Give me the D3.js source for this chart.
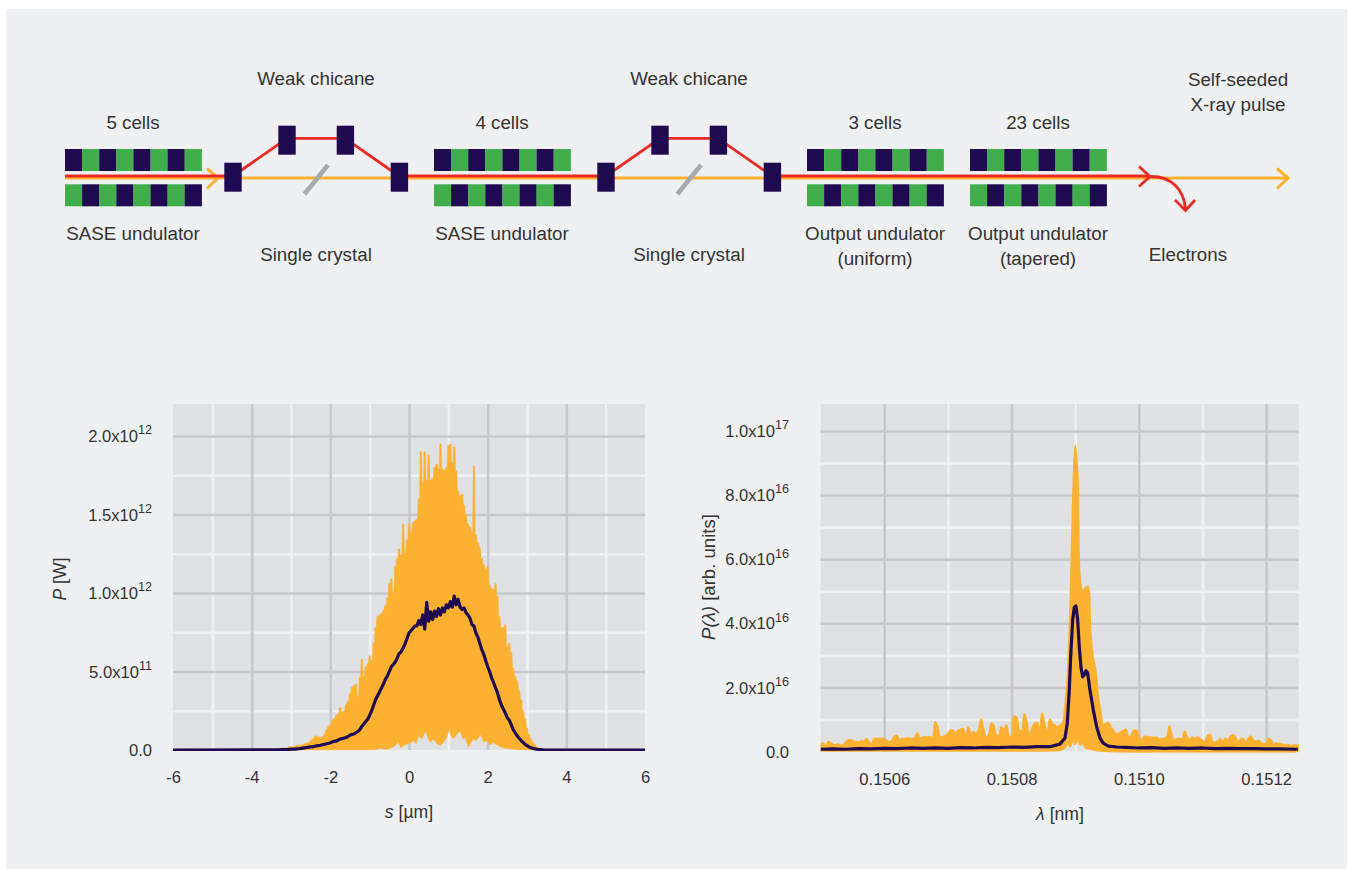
<!DOCTYPE html>
<html>
<head>
<meta charset="utf-8">
<script src="https://cdn.jsdelivr.net/npm/d3@7"></script>
<style>
  html, body { margin: 0; background: #fff; }
  svg { display: block; }
  text { font-family: "Liberation Sans", Arial, sans-serif; fill: #333; }
</style>
</head>
<body>
<svg id="fig" width="1349" height="870"></svg>
<script>
// ---- power profile, s in um, P in units of 1e12 W, sampled every 0.05 um from -3.3
const sStart = -3.3, sStep = 0.05;
const powerMax = [.01,.01,.012,.012,.015,.02,.02,.02,.022,.03,.03,.03,.035,.04,.045,.05,.06,.07,.085,.09,
  .085,.08,.085,.10,.13,.15,.16,.19,.20,.22,.23,.27,.24,.25,.29,.31,.36,.40,.41,.42,
  .34,.46,.58,.47,.53,.55,.60,.57,.68,.78,.85,.86,.87,.89,.92,.97,1.06,1.09,1.00,1.17,
  1.22,1.28,1.24,1.44,1.26,1.34,1.44,1.38,1.45,1.46,1.47,1.60,1.90,1.70,1.90,1.72,1.88,1.72,1.73,1.80,
  1.82,1.79,1.95,1.79,1.78,1.80,1.94,1.95,1.83,1.93,1.78,1.65,1.62,1.63,1.56,1.50,1.44,1.42,1.39,1.81,
  1.37,1.32,1.29,1.22,1.18,1.15,1.17,1.05,1.03,1.02,1.06,.98,.85,.78,.78,.80,.66,.68,.62,.52,
  .47,.44,.38,.32,.25,.20,.14,.10,.07,.05,.035,.02,.015,.01,.005,.002];
const powerMean = [.001,.002,.002,.003,.003,.004,.005,.005,.006,.007,.008,.010,.012,.014,.016,.018,.020,.020,.024,.026,
  .028,.030,.034,.036,.040,.042,.046,.052,.056,.056,.064,.070,.072,.076,.080,.086,.094,.100,.102,.110,
  .118,.130,.150,.166,.182,.196,.220,.250,.285,.320,.345,.370,.395,.420,.450,.470,.500,.530,.545,.560,
  .585,.615,.625,.650,.675,.710,.745,.760,.775,.790,.790,.825,.800,.860,.770,.940,.820,.880,.830,.885,
  .850,.900,.860,.905,.880,.925,.905,.945,.910,.980,.925,.960,.910,.895,.905,.875,.860,.840,.800,.790,
  .745,.720,.680,.640,.610,.570,.530,.500,.460,.430,.395,.365,.320,.285,.260,.235,.205,.190,.160,.130,
  .110,.090,.075,.060,.048,.036,.028,.020,.014,.010,.007,.005,.003,.002,.001,0];
// lower edge of the shot-to-shot band
const powerMinS = [-3.3,-.9,-.73,-.56,-.39,-.27,-.21,-.1,0,.11,.18,.24,.33,.41,.48,.54,.62,.71,.8,.88,.96,1.02,1.07,1.13,1.22,1.3,1.37,1.43,1.51,1.58,1.64,1.72,1.81,1.9,1.98,2.06,2.14,2.31,2.48,2.82,3.6];
const powerMinV = [0,.002,.01,.005,.02,.05,.015,.035,.04,.06,.04,.09,.07,.12,.08,.05,.07,.04,.03,.05,.08,.13,.09,.07,.10,.12,.07,.08,.02,.05,.07,.06,.10,.05,.06,.03,.05,.02,.01,.002,0];
const sTicks = [-6,-4,-2,0,2,4,6];
const sMinor = [-5,-3,-1,1,3,5];
const powerTicks = [0,.5,1,1.5,2];
const powerMinorTicks = [.25,.75,1.25,1.75];
const powerLabels = [['0.0',''],['5.0x10','11'],['1.0x10','12'],['1.5x10','12'],['2.0x10','12']];

// ---- spectrum, lambda in nm, P in units of 1e16, sampled every 4e-6 nm from 0.1505
const lamStart = 0.1505, lamStep = 0.000004;
const specMax = [.24,.26,.17,.31,.27,.21,.21,.23,.19,.21,.31,.36,.36,.31,.31,.29,.33,.31,.40,.29,.24,.40,.41,.40,.40,.39,.34,.29,.35,.48,.50,.36,.40,.40,.42,.41,.40,.42,.57,.42,.44,.46,.44,.46,.42,.92,.77,.45,.46,
  .50,.56,.66,.66,.56,.66,.69,.71,.45,.77,.56,.61,.56,.66,1.01,.71,.45,.50,.87,.82,.50,.50,.77,.66,.82,.50,.45,1.10,1.05,.66,.63,1.17,.92,.50,.71,.87,.90,.66,1.20,.87,.50,1.01,.87,.82,.77,.82,.87,1.4,
  2.4,4.4,7.6,9.55,8.6,5.3,5.0,5.1,5.15,3.8,2.95,2.55,1.75,1.25,
  .82,.87,.90,.77,.66,.56,.56,.61,.66,.69,.45,.50,.66,.66,.50,.35,.45,.47,.44,.45,.43,.45,.36,.40,.40,.45,.79,.50,.35,.40,.40,.40,.63,.45,.35,.45,.40,.45,.40,
  .35,.29,.50,.52,.29,.29,.31,.40,.27,.40,.35,.48,.52,.45,.27,.40,.40,.29,.40,.48,.35,.31,.35,.27,.24,.24,.40,.35,.21,.27,.24,.24,.21,.19,.21,.17,.21,.19,.20];
const specMinLam = [.1505,.1507,.15086,.150878,.150884,.150888,.150892,.150896,.1509,.150904,.150908,.150912,.150916,.15092,.15093,.15094,.15125];
const specMinV = [.02,.02,.03,.05,.12,.25,.15,.35,.22,.38,.2,.3,.12,.1,.05,.02,.02];
const specMeanLam = [.1505,.15052,.15054,.15056,.15058,.1506,.15062,.15064,.15066,.15068,.1507,.15072,.15074,.15076,.15078,.1508,.15082,.15084,.15086,.150876,.150884,.1508876,.1508907,.1508929,.150896,.1508986,.1509012,.1509039,.1509064,.150909,.1509117,.1509143,.1509169,.1509195,.1509232,.1509284,.1509337,.150939,.150944,.150952,.150965,.15098,.151,.15102,.15104,.15106,.15108,.1511,.15112,.15114,.15116,.15118,.1512,.15122,.15125];
const specMeanV = [.07,.08,.07,.09,.08,.10,.09,.11,.10,.11,.10,.12,.11,.13,.12,.14,.13,.15,.15,.23,.42,.89,1.92,2.95,4.1,4.5,4.54,4.1,3.27,2.64,2.33,2.39,2.52,2.45,1.92,1.3,.77,.42,.26,.17,.14,.13,.11,.12,.10,.11,.10,.11,.09,.10,.09,.09,.08,.08,.07];
const lamTicks = [.1506,.1508,.1510,.1512];
const lamMinor = [.1507,.1509,.1511];
const specTicks = [0,2,4,6,8,10];
const specMinorTicks = [1,3,5,7,9];
const specLabels = [['0.0',''],['2.0x10','16'],['4.0x10','16'],['6.0x10','16'],['8.0x10','16'],['1.0x10','17']];

// ---- beamline sketch
const undulatorX = [65,434,807,970];
const cellsText = ['5 cells','4 cells','3 cells','23 cells'];
const underText = [['SASE undulator'],['SASE undulator'],['Output undulator','(uniform)'],['Output undulator','(tapered)']];
const chicaneOffset = [0,373.3];

const ORANGE='#fdb130', NAVY='#1f0a52', GREEN='#3fae4b', RED='#ee2a24';
const MAJOR='#c7c8ca', MINOR='#eef0f2', PLOT='#e0e1e3', PANEL='#eff0f2';
const FONT='"Liberation Sans", Arial, sans-serif';

const svg = d3.select('#fig');
svg.append('rect').attr('x',6).attr('y',9).attr('width',1341).attr('height',860).attr('fill',PANEL);

function drawSketch() {
  const g = svg.append('g');
  const line = (pts,col,w) => g.append('polyline').attr('points',pts.join(' ')).attr('fill','none')
    .attr('stroke',col).attr('stroke-width',w).attr('stroke-linejoin','miter');
  const label = (t,x,y) => g.append('text').attr('x',x).attr('y',y).attr('text-anchor','middle').attr('font-size',18.8).text(t);

  undulatorX.forEach((x0,k) => {
    d3.range(8).forEach(i => {
      g.append('rect').attr('x',x0+i*17.1).attr('y',149).attr('width',17.2).attr('height',22).attr('fill',i%2?GREEN:NAVY);
      g.append('rect').attr('x',x0+i*17.1).attr('y',184.3).attr('width',17.2).attr('height',22).attr('fill',i%2?NAVY:GREEN);
    });
    label(cellsText[k],x0+68,128.5);
    underText[k].forEach((t,j) => label(t,x0+68,240+j*25));
  });

  // beams
  line([[65,178],[1288,178]],ORANGE,3);
  line([[207,168.5],[218,178],[207,188.5]],ORANGE,3);
  line([[1277,168.5],[1288,178],[1277,188.5]],ORANGE,3);
  line([[65,176],[233,176]],RED,2.8);
  line([[399,176],[606,176]],RED,2.8);
  line([[772,176],[1150,176]],RED,2.8);
  g.append('path').attr('d','M1150,176.5 C1172,176 1184,190 1185.5,209').attr('fill','none').attr('stroke',RED).attr('stroke-width',2.8);
  line([[1139,166.5],[1150,176.5],[1139,186.5]],RED,2.8);
  line([[1175,200],[1185.5,210.5],[1195,200]],RED,2.8);

  chicaneOffset.forEach((dx,k) => {
    const d = Math.round(dx);
    line([[233+d,176],[287+d,138.3],[345+d,138.3],[399+d,176]],RED,2.8);
    g.append('line').attr('x1',328+d).attr('y1',165).attr('x2',304.5+d).attr('y2',194)
      .attr('stroke','#a9aaac').attr('stroke-width',4.6);
    [[224.3,162.7],[278.3,125.7],[336.7,125.7],[390.7,162.7]].forEach(p => {
      g.append('rect').attr('x',p[0]+d).attr('y',p[1]).attr('width',17.4).attr('height',29).attr('fill',NAVY);
    });
    label('Weak chicane',316+d,84.5);
    label('Single crystal',316+d,260.5);
  });
  label('Electrons',1188,260.5);
  label('Self-seeded',1238,85.5);
  label('X-ray pulse',1238,110.5);
}

function drawPlot(o) {
  const W=o.x1-o.x0, H=o.y0-o.y1;
  const x=d3.scaleLinear().domain(o.xDomain).range([o.x0,o.x1]);
  const y=d3.scaleLinear().domain(o.yDomain).range([o.y0,o.y1]);
  const g=svg.append('g');
  g.append('rect').attr('x',o.x0).attr('y',o.y1).attr('width',W).attr('height',H).attr('fill',PLOT);

  const grid=(axis,tr,col,w) => {
    const a=g.append('g').attr('transform',tr).call(axis);
    a.select('.domain').remove();
    a.selectAll('.tick text').remove();
    a.selectAll('.tick line').attr('stroke',col).attr('stroke-width',w);
  };
  grid(d3.axisBottom(x).tickValues(o.xMinor).tickSize(-H),`translate(0,${o.y0})`,MINOR,2.6);
  grid(d3.axisLeft(y).tickValues(o.yMinor).tickSize(-W),`translate(${o.x0},0)`,MINOR,2.6);
  grid(d3.axisBottom(x).tickValues(o.xTicks.filter(v=>v>o.xDomain[0]&&v<o.xDomain[1])).tickSize(-H),`translate(0,${o.y0})`,MAJOR,2.6);
  grid(d3.axisLeft(y).tickValues(o.yTicks.filter(v=>v>0)).tickSize(-W),`translate(${o.x0},0)`,MAJOR,2.6);

  const id='clip'+Math.round(o.x0);
  svg.append('clipPath').attr('id',id).append('rect').attr('x',o.x0).attr('y',o.y1-1).attr('width',W).attr('height',H+2);
  const marks=g.append('g').attr('clip-path',`url(#${id})`);

  // band: top edge forward, bottom edge back
  const ln=d3.line().x(d=>x(d[0])).y(d=>y(d[1]));
  const band=o.upper.concat(o.lower.slice().reverse());
  marks.append('path').attr('d',d3.line().x(d=>x(d[0])).y(d=>y(d[1])).curve(o.bandCurve)(band)+'Z').attr('fill',ORANGE)
    .attr('stroke',ORANGE).attr('stroke-width',o.bandStroke).attr('stroke-linejoin','round');
  marks.append('path').attr('d',ln(o.mean)).attr('fill','none').attr('stroke',NAVY)
    .attr('stroke-width',o.meanWidth).attr('stroke-linejoin','round');

  // tick labels
  const xa=g.append('g').attr('transform',`translate(0,${o.y0})`)
    .call(d3.axisBottom(x).tickValues(o.xTicks).tickSize(0).tickPadding(21.5).tickFormat(o.xFormat));
  xa.select('.domain').remove();
  xa.selectAll('text').attr('font-size',16.6).attr('font-family',FONT).style('fill','#333');
  const ya=g.append('g').attr('transform',`translate(${o.labelX},0)`)
    .call(d3.axisLeft(y).tickValues(o.yTicks).tickSize(0).tickPadding(0).tickFormat(''));
  ya.select('.domain').remove();
  ya.selectAll('.tick text').each(function(d,i){
    const t=d3.select(this).attr('font-size',16.6).attr('font-family',FONT)
      .style('fill','#333').attr('dy','0.34em');
    t.text(null);
    t.append('tspan').text(o.yLabels[i][0]);
    if(o.yLabels[i][1]) t.append('tspan').attr('font-size',12.6).attr('dy','-0.62em').text(o.yLabels[i][1]);
  });

  // axis titles
  const xt=g.append('text').attr('x',o.xTitleX).attr('y',o.y0+68).attr('text-anchor','middle').attr('font-size',17.6);
  xt.append('tspan').attr('font-style','italic').text(o.xTitle[0]);
  xt.append('tspan').text(o.xTitle[1]);
  const yt=g.append('text').attr('transform',`translate(${o.titleX},${o.titleY}) rotate(-90)`).attr('text-anchor','middle').attr('font-size',o.yTitleSize);
  o.yTitle.forEach(p => yt.append('tspan').attr('font-style',p[1]?'italic':'normal').text(p[0]));
}

drawSketch();

const sAt = i => sStart+i*sStep;
drawPlot({
  x0:173,x1:645,y0:750,y1:404,labelX:152,
  xDomain:[-6,6],yDomain:[0,2.204],
  xTicks:sTicks,xMinor:sMinor,yTicks:powerTicks,yMinor:powerMinorTicks,yLabels:powerLabels,
  xFormat:d=>String(d),xTitleX:409,xTitle:['s',' [µm]'],
  titleX:66,titleY:579,yTitle:[['P',1],[' [W]',0]],yTitleSize:17.6,
  // each sample is one flat-topped spike
  upper:powerMax.flatMap((v,i)=>[[sAt(i)-sStep*.35,v],[sAt(i)+sStep*.35,v]]),
  lower:powerMinS.map((s,i)=>[s,powerMinV[i]]),
  mean:[[-6,0]].concat(powerMean.map((v,i)=>[sAt(i),v]),[[6,0]]),
  bandStroke:.5,bandCurve:d3.curveLinear,meanWidth:3.2
});

const lamAt = i => lamStart+i*lamStep;
drawPlot({
  x0:820.6,x1:1298.6,y0:751.5,y1:404,labelX:789,
  xDomain:[.1505,.151251],yDomain:[0,10.84],
  xTicks:lamTicks,xMinor:lamMinor,yTicks:specTicks,yMinor:specMinorTicks,yLabels:specLabels,
  xFormat:d3.format('.4f'),xTitleX:1060,xTitle:['λ',' [nm]'],
  titleX:714.5,titleY:577,yTitle:[['P(λ)',1],[' [arb. units]',0]],yTitleSize:18.6,
  upper:specMax.map((v,i)=>[lamAt(i),v]),
  lower:specMinLam.map((l,i)=>[l,specMinV[i]]),
  mean:specMeanLam.map((l,i)=>[l,specMeanV[i]]),
  bandStroke:1.8,bandCurve:d3.curveCatmullRom,meanWidth:3.2
});
</script>
</body>
</html>
